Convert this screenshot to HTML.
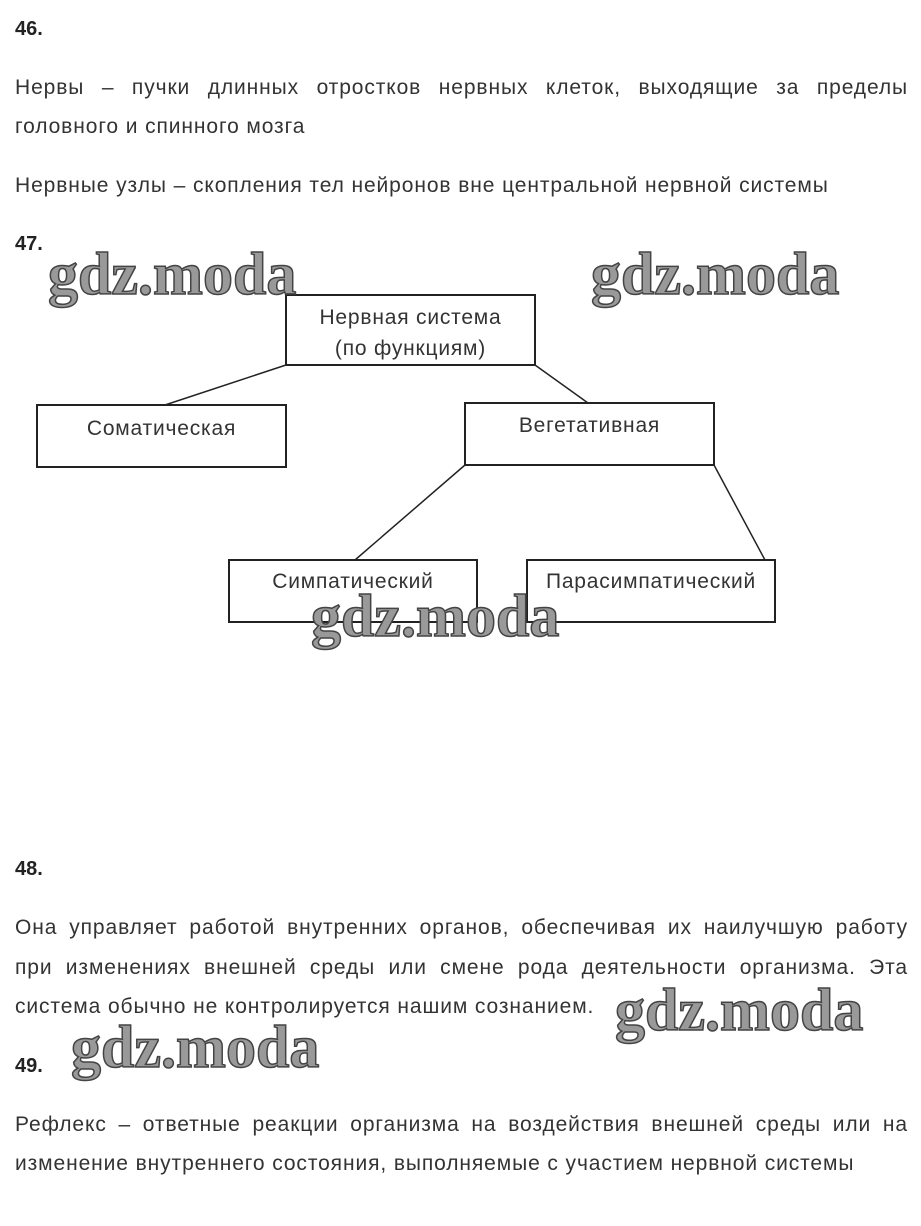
<!DOCTYPE html>
<html><head><meta charset="utf-8"><style>
body{margin:0;width:921px;height:1226px;background:#fff;position:relative;font-family:"Liberation Sans",sans-serif;color:#333;overflow:hidden}
.t{position:absolute;font-size:21px;letter-spacing:0.9px;white-space:nowrap;line-height:24px}
.j{position:absolute;left:15px;width:893px;font-size:21px;letter-spacing:0.9px;line-height:24px;text-align:justify;text-align-last:justify;white-space:nowrap}
.h{position:absolute;left:15px;font-size:20px;font-weight:bold;color:#222;line-height:24px}
.box{position:absolute;border:2px solid #222;box-sizing:border-box;font-size:21px;letter-spacing:0.8px;text-align:center;color:#333;line-height:31px}
.wm{position:absolute;font-family:"Liberation Serif",serif;font-weight:bold;font-size:60px;color:#999;-webkit-text-stroke:1.5px #444;line-height:60px;letter-spacing:0px}
</style></head><body>
<div class="h" style="top:17px">46.</div>
<div class="j" style="top:76px">Нервы – пучки длинных отростков нервных клеток, выходящие за пределы</div>
<div class="t" style="left:15px;top:115px">головного и спинного мозга</div>
<div class="t" style="left:15px;top:174px">Нервные узлы – скопления тел нейронов вне центральной нервной системы</div>
<div class="h" style="top:232px">47.</div>

<svg style="position:absolute;left:0;top:0" width="921" height="1226">
<g stroke="#222" stroke-width="1.5">
<line x1="286" y1="365" x2="165" y2="405"/>
<line x1="535" y1="365" x2="588" y2="403"/>
<line x1="465" y1="465" x2="355" y2="560"/>
<line x1="714" y1="465" x2="765" y2="560"/>
</g></svg>
<div class="box" style="left:285px;top:294px;width:251px;height:72px;padding-top:6px">Нервная система<br>(по функциям)</div>
<div class="box" style="left:36px;top:404px;width:251px;height:64px;padding-top:7px">Соматическая</div>
<div class="box" style="left:464px;top:402px;width:251px;height:64px;padding-top:6px">Вегетативная</div>
<div class="box" style="left:228px;top:559px;width:250px;height:64px;padding-top:5px">Симпатический</div>
<div class="box" style="left:526px;top:559px;width:250px;height:64px;padding-top:5px">Парасимпатический</div>

<div class="h" style="top:857px">48.</div>
<div class="j" style="top:916px">Она управляет работой внутренних органов, обеспечивая их наилучшую работу</div>
<div class="j" style="top:956px">при изменениях внешней среды или смене рода деятельности организма. Эта</div>
<div class="t" style="left:15px;top:995px">система обычно не контролируется нашим сознанием.</div>
<div class="h" style="top:1054px">49.</div>
<div class="j" style="top:1113px">Рефлекс – ответные реакции организма на воздействия внешней среды или на</div>
<div class="t" style="left:15px;top:1152px">изменение внутреннего состояния, выполняемые с участием нервной системы</div>

<div class="wm" style="left:48px;top:244px">gdz.moda</div>
<div class="wm" style="left:591px;top:244px">gdz.moda</div>
<div class="wm" style="left:311px;top:586px">gdz.moda</div>
<div class="wm" style="left:615px;top:980px">gdz.moda</div>
<div class="wm" style="left:71px;top:1017px">gdz.moda</div>
</body></html>
